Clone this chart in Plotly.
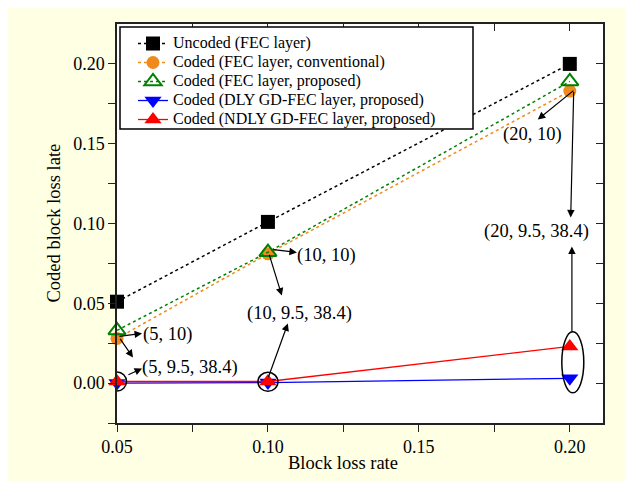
import plotly.graph_objects as go

# ---- data ----
block_loss_rate = [0.05, 0.10, 0.20]
uncoded_fec = [0.051, 0.101, 0.200]
coded_fec_conv = [0.028, 0.081, 0.183]
coded_fec_prop = [0.033, 0.082, 0.189]
coded_dly_gdfec = [0.0, 0.0003, 0.003]
coded_ndly_gdfec = [0.001, 0.001, 0.023]

series_names = [
    "Uncoded (FEC layer)",
    "Coded (FEC layer, conventional)",
    "Coded (FEC layer, proposed)",
    "Coded (DLY GD-FEC layer, proposed)",
    "Coded (NDLY GD-FEC layer, proposed)",
]

x_major_ticks = [0.05, 0.10, 0.15, 0.20]
x_minor_ticks = [0.075, 0.125, 0.175]
x_all_ticks = [0.05, 0.075, 0.10, 0.125, 0.15, 0.175, 0.20]
y_major_ticks = [0.0, 0.05, 0.10, 0.15, 0.20]
y_minor_ticks = [-0.025, 0.025, 0.075, 0.125, 0.175]
y_all_ticks = [0.0, 0.025, 0.05, 0.075, 0.10, 0.125, 0.15, 0.175, 0.20]

# annotation labels: (text, x, y)
labels = [
    ("(5, 10)", 0.0666, 0.0305),
    ("(5, 9.5, 38.4)", 0.0742, 0.0098),
    ("(10, 10)", 0.1195, 0.0797),
    ("(10, 9.5, 38.4)", 0.1106, 0.0439),
    ("(20, 10)", 0.1876, 0.1560),
    ("(20, 9.5, 38.4)", 0.1891, 0.0952),
]
# arrows: (tail_x, tail_y, head_x, head_y)
arrows = [
    (0.0503, 0.0292, 0.0583, 0.0311),
    (0.0507, 0.0286, 0.0553, 0.0161),
    (0.0533, 0.0048, 0.0583, 0.0092),
    (0.1013, 0.0838, 0.1096, 0.0819),
    (0.1003, 0.0813, 0.1046, 0.0549),
    (0.1000, 0.0029, 0.1066, 0.0374),
    (0.2017, 0.1840, 0.1894, 0.1652),
    (0.2013, 0.1834, 0.2003, 0.1038),
    (0.2007, 0.0311, 0.2007, 0.0856),
]
# highlight ellipses: (x_center, y_center, half_width_px, half_height_px)
ellipses = [
    (0.05, 0.001, 9.5, 9.5),
    (0.10, 0.0008, 10, 9.5),
    (0.201, 0.013, 11, 30.5),
]

FONT = "Liberation Serif"
ORANGE = "#F08A1C"
GREEN = "#008000"

fig = go.Figure()

styles = [
    dict(line=dict(color="black", dash="dot", width=1.5),
         marker=dict(symbol="square", size=14, color="black")),
    dict(line=dict(color=ORANGE, dash="dot", width=1.5),
         marker=dict(symbol="circle", size=13, color=ORANGE)),
    dict(line=dict(color=GREEN, dash="dot", width=1.5),
         marker=dict(symbol="triangle-up-open", size=15, color=GREEN, line=dict(width=2, color=GREEN))),
    dict(line=dict(color="#0000FF", width=1.3),
         marker=dict(symbol="triangle-down", size=15, color="#0000FF")),
    dict(line=dict(color="#FF0000", width=1.3),
         marker=dict(symbol="triangle-up", size=15, color="#FF0000")),
]
series = [uncoded_fec, coded_fec_conv, coded_fec_prop, coded_dly_gdfec, coded_ndly_gdfec]
for name, ys, st in zip(series_names, series, styles):
    fig.add_trace(go.Scatter(
        x=block_loss_rate, y=ys, name=f'<span style="font-size:16px">{name}</span>',
        mode="lines+markers", cliponaxis=False, **st))

# helper invisible trace so the mirrored (top/right) axes are drawn
fig.add_trace(go.Scatter(x=block_loss_rate[:1], y=uncoded_fec[:1], xaxis="x2", yaxis="y2",
                         mode="markers", marker=dict(opacity=0), showlegend=False, hoverinfo="skip"))

# page offset (body margin) and geometry in page pixels
OFF = 8
W, H = 625, 473
L, R, T, B = 117 - OFF, 30, 24 - OFF, 58.4
pw, ph = W - L - R, H - T - B
def px_x(p):  # page px -> paper x
    return (p - OFF - L) / pw
def px_y(p):  # page px -> paper y
    return (H - B - (p - OFF)) / ph

xr = [0.05, 0.211]
yr = [-0.025, 0.225]
axis_common = dict(showgrid=False, zeroline=False, showline=True, linecolor="#222",
                   linewidth=1.5, tickcolor="#222", tickwidth=1.3, ticklen=7,
                   tickfont=dict(family=FONT, size=18, color="black"))

fig.update_layout(
    width=W, height=H,
    margin=dict(l=L, r=R, t=T, b=B),
    paper_bgcolor="#FFFFE4",
    plot_bgcolor="white",
    font=dict(family=FONT, color="black"),
    xaxis=dict(range=xr, tickmode="array", tickvals=x_major_ticks, tickformat=".2f",
               ticks="outside",
               minor=dict(tickmode="array", tickvals=x_minor_ticks, ticks="outside", ticklen=7,
                          tickcolor="#222", tickwidth=1.3),
               **axis_common),
    yaxis=dict(range=yr, tickmode="array", tickvals=y_major_ticks, tickformat=".2f",
               ticks="outside",
               minor=dict(tickmode="array", tickvals=y_minor_ticks, ticks="outside", ticklen=7,
                          tickcolor="#222", tickwidth=1.3),
               **axis_common),
    xaxis2=dict(overlaying="x", side="top", anchor="y2", range=xr, tickmode="array",
                tickvals=x_all_ticks, ticks="inside", showticklabels=False, **axis_common),
    yaxis2=dict(overlaying="y", side="right", anchor="x2", range=yr, tickmode="array",
                tickvals=y_all_ticks, ticks="inside", showticklabels=False, **axis_common),
    legend=dict(x=px_x(133), y=px_y(29), xanchor="left", yanchor="top",
                bgcolor="rgba(0,0,0,0)", borderwidth=0,
                font=dict(family=FONT, size=12, color="black")),
    showlegend=True,
)

shapes = []
# legend box
shapes.append(dict(type="rect", xref="paper", yref="paper",
                   x0=px_x(120), x1=px_x(473), y0=px_y(129), y1=px_y(27),
                   line=dict(color="black", width=1.5), fillcolor="white", layer="above"))
for cx, cy, hw, hh in ellipses:
    shapes.append(dict(type="circle", xref="x", yref="y", xsizemode="pixel", ysizemode="pixel",
                       xanchor=cx, yanchor=cy, x0=-hw, x1=hw, y0=-hh, y1=hh,
                       line=dict(color="black", width=1.5), layer="above"))
fig.update_layout(shapes=shapes)

annotations = []
for tx, ty, hx, hy in arrows:
    annotations.append(dict(x=hx, y=hy, ax=tx, ay=ty, xref="x", yref="y", axref="x", ayref="y",
                            text="", showarrow=True, arrowhead=2, arrowsize=1.25, arrowwidth=1.2,
                            arrowcolor="black", standoff=0, startstandoff=0))
for text, x, y in labels:
    annotations.append(dict(x=x, y=y, xref="x", yref="y", text=text, showarrow=False,
                            xanchor="center", yanchor="middle",
                            font=dict(family=FONT, size=18.5, color="black")))
annotations.append(dict(x=0.125, y=px_y(463), xref="x", yref="paper", text="Block loss rate",
                        showarrow=False, xanchor="center", yanchor="middle",
                        font=dict(family=FONT, size=18.5, color="black")))
annotations.append(dict(x=px_x(53), y=0.10, xref="paper", yref="y", text="Coded block loss late",
                        showarrow=False, textangle=-90, xanchor="center", yanchor="middle",
                        font=dict(family=FONT, size=18.5, color="black")))
fig.update_layout(annotations=annotations)

fig.write_html("out.html")
